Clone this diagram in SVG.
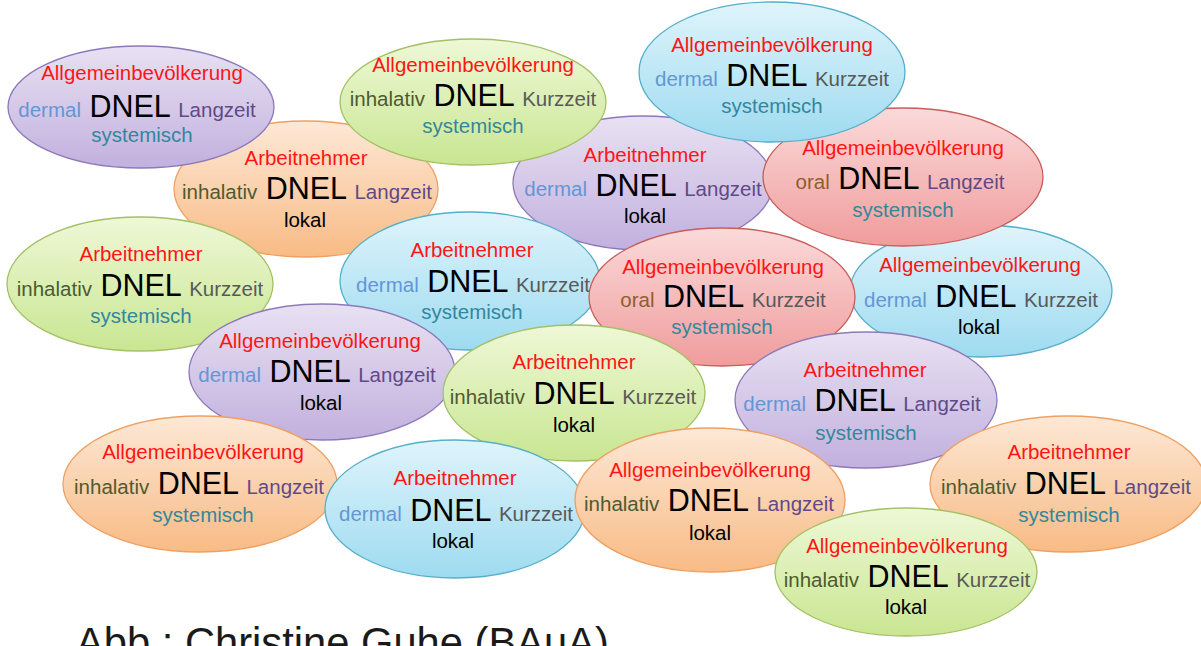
<svg xmlns="http://www.w3.org/2000/svg" width="1201" height="646" viewBox="0 0 1201 646">
<defs>
<linearGradient id="gP" x1="0" y1="0" x2="0" y2="1"><stop offset="0" stop-color="#e8e1f2"/><stop offset="1" stop-color="#c2b0de"/></linearGradient>
<linearGradient id="gG" x1="0" y1="0" x2="0" y2="1"><stop offset="0" stop-color="#eef8d6"/><stop offset="1" stop-color="#c9e692"/></linearGradient>
<linearGradient id="gC" x1="0" y1="0" x2="0" y2="1"><stop offset="0" stop-color="#dff4fb"/><stop offset="1" stop-color="#9edbf0"/></linearGradient>
<linearGradient id="gO" x1="0" y1="0" x2="0" y2="1"><stop offset="0" stop-color="#fde8d6"/><stop offset="1" stop-color="#f8bb85"/></linearGradient>
<linearGradient id="gR" x1="0" y1="0" x2="0" y2="1"><stop offset="0" stop-color="#fbdada"/><stop offset="1" stop-color="#f09c9c"/></linearGradient>
<style>
.P{fill:url(#gP);stroke:#8c79b9;stroke-width:1.3}
.G{fill:url(#gG);stroke:#a3c066;stroke-width:1.3}
.C{fill:url(#gC);stroke:#55afc8;stroke-width:1.3}
.O{fill:url(#gO);stroke:#eea062;stroke-width:1.3}
.R{fill:url(#gR);stroke:#c65e5c;stroke-width:1.3}
text{font-family:"Liberation Sans",Arial,sans-serif;text-anchor:middle;font-size:20.5px}
.t{fill:#ff1515}
.m{font-size:30.5px;fill:#000}
.s{font-size:20.5px}
.de{fill:#6496d6}
.in{fill:#4e5a30}
.or{fill:#8e5e2e}
.la{fill:#5f4a87}
.ku{fill:#595959}
.sy{fill:#33879c}
.lo{fill:#000}
.cap{font-size:41.7px;fill:#1a1a1a;text-anchor:start}
</style>
</defs>
<g id="connectors"/>
<g id="n10"><ellipse class="C" cx="981" cy="291" rx="131" ry="66"/><text class="t" x="980" y="272">Allgemeinbevölkerung</text><text class="m" x="981" y="307"><tspan class="s de">dermal</tspan> DNEL <tspan class="s ku">Kurzzeit</tspan></text><text class="lo" x="979" y="334">lokal</text></g>
<g id="n4"><ellipse class="O" cx="306" cy="189" rx="132" ry="68"/><text class="t" x="306" y="165">Arbeitnehmer</text><text class="m" x="307" y="199"><tspan class="s in">inhalativ</tspan> DNEL <tspan class="s la">Langzeit</tspan></text><text class="lo" x="305" y="227">lokal</text></g>
<g id="n5"><ellipse class="P" cx="643" cy="183" rx="130" ry="67"/><text class="t" x="645" y="162">Arbeitnehmer</text><text class="m" x="643" y="196"><tspan class="s de">dermal</tspan> DNEL <tspan class="s la">Langzeit</tspan></text><text class="lo" x="645" y="223">lokal</text></g>
<g id="n6"><ellipse class="R" cx="903" cy="177" rx="140" ry="69"/><text class="t" x="903" y="155">Allgemeinbevölkerung</text><text class="m" x="900" y="189"><tspan class="s or">oral</tspan> DNEL <tspan class="s la">Langzeit</tspan></text><text class="sy" x="903" y="217">systemisch</text></g>
<g id="n1"><ellipse class="P" cx="141" cy="107" rx="133" ry="61"/><text class="t" x="142" y="80">Allgemeinbevölkerung</text><text class="m" x="137" y="117"><tspan class="s de">dermal</tspan> DNEL <tspan class="s la">Langzeit</tspan></text><text class="sy" x="142" y="142">systemisch</text></g>
<g id="n2"><ellipse class="G" cx="473" cy="102" rx="133" ry="63"/><text class="t" x="473" y="72">Allgemeinbevölkerung</text><text class="m" x="473" y="106"><tspan class="s in">inhalativ</tspan> DNEL <tspan class="s ku">Kurzzeit</tspan></text><text class="sy" x="473" y="133">systemisch</text></g>
<g id="n3"><ellipse class="C" cx="772" cy="72" rx="133" ry="70"/><text class="t" x="772" y="52">Allgemeinbevölkerung</text><text class="m" x="772" y="86"><tspan class="s de">dermal</tspan> DNEL <tspan class="s ku">Kurzzeit</tspan></text><text class="sy" x="772" y="113">systemisch</text></g>
<g id="n7"><ellipse class="G" cx="140" cy="284" rx="133" ry="67"/><text class="t" x="141" y="261">Arbeitnehmer</text><text class="m" x="140" y="296"><tspan class="s in">inhalativ</tspan> DNEL <tspan class="s ku">Kurzzeit</tspan></text><text class="sy" x="141" y="323">systemisch</text></g>
<g id="n8"><ellipse class="C" cx="470" cy="281" rx="130" ry="69"/><text class="t" x="472" y="257">Arbeitnehmer</text><text class="m" x="473" y="292"><tspan class="s de">dermal</tspan> DNEL <tspan class="s ku">Kurzzeit</tspan></text><text class="sy" x="472" y="319">systemisch</text></g>
<g id="n9"><ellipse class="R" cx="722" cy="297" rx="133" ry="69"/><text class="t" x="723" y="274">Allgemeinbevölkerung</text><text class="m" x="723" y="307"><tspan class="s or">oral</tspan> DNEL <tspan class="s ku">Kurzzeit</tspan></text><text class="sy" x="722" y="334">systemisch</text></g>
<g id="n11"><ellipse class="P" cx="322" cy="372" rx="133" ry="68"/><text class="t" x="320" y="348">Allgemeinbevölkerung</text><text class="m" x="317" y="382"><tspan class="s de">dermal</tspan> DNEL <tspan class="s la">Langzeit</tspan></text><text class="lo" x="321" y="410">lokal</text></g>
<g id="n12"><ellipse class="G" cx="574" cy="393" rx="131" ry="68"/><text class="t" x="574" y="369">Arbeitnehmer</text><text class="m" x="573" y="404"><tspan class="s in">inhalativ</tspan> DNEL <tspan class="s ku">Kurzzeit</tspan></text><text class="lo" x="574" y="432">lokal</text></g>
<g id="n13"><ellipse class="P" cx="866" cy="400" rx="131" ry="68"/><text class="t" x="865" y="377">Arbeitnehmer</text><text class="m" x="862" y="411"><tspan class="s de">dermal</tspan> DNEL <tspan class="s la">Langzeit</tspan></text><text class="sy" x="866" y="440">systemisch</text></g>
<g id="n14"><ellipse class="O" cx="200" cy="484" rx="137" ry="68"/><text class="t" x="203" y="459">Allgemeinbevölkerung</text><text class="m" x="199" y="494"><tspan class="s in">inhalativ</tspan> DNEL <tspan class="s la">Langzeit</tspan></text><text class="sy" x="203" y="522">systemisch</text></g>
<g id="n15"><ellipse class="C" cx="455" cy="509" rx="130" ry="69"/><text class="t" x="455" y="485">Arbeitnehmer</text><text class="m" x="456" y="521"><tspan class="s de">dermal</tspan> DNEL <tspan class="s ku">Kurzzeit</tspan></text><text class="lo" x="453" y="548">lokal</text></g>
<g id="n16"><ellipse class="O" cx="710" cy="500" rx="135" ry="72"/><text class="t" x="710" y="477">Allgemeinbevölkerung</text><text class="m" x="709" y="511"><tspan class="s in">inhalativ</tspan> DNEL <tspan class="s la">Langzeit</tspan></text><text class="lo" x="710" y="540">lokal</text></g>
<g id="n17"><ellipse class="O" cx="1068" cy="484" rx="138" ry="68"/><text class="t" x="1069" y="459">Arbeitnehmer</text><text class="m" x="1066" y="494"><tspan class="s in">inhalativ</tspan> DNEL <tspan class="s la">Langzeit</tspan></text><text class="sy" x="1069" y="522">systemisch</text></g>
<g id="n18"><ellipse class="G" cx="906" cy="572" rx="131" ry="64"/><text class="t" x="907" y="553">Allgemeinbevölkerung</text><text class="m" x="907" y="587"><tspan class="s in">inhalativ</tspan> DNEL <tspan class="s ku">Kurzzeit</tspan></text><text class="lo" x="906" y="614">lokal</text></g>
<text class="cap" x="76" y="657">Abb.: Christine Guhe (BAuA)</text>
</svg>
